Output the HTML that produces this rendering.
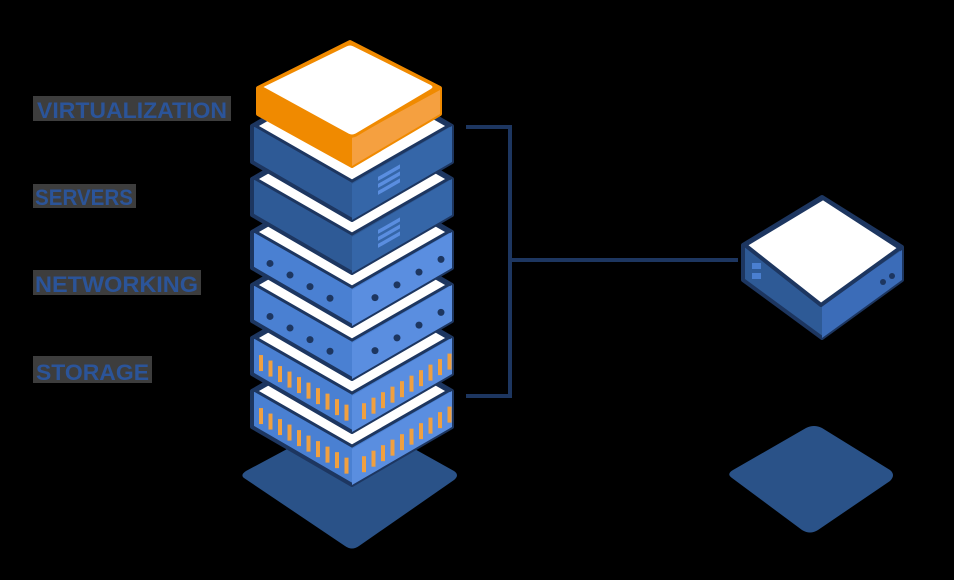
<!DOCTYPE html>
<html><head><meta charset="utf-8"><style>
html,body{margin:0;padding:0;background:#000;}
svg{display:block}
text{font-family:"Liberation Sans",sans-serif;font-weight:bold;fill:#2b5499;font-size:22px;}
</style></head><body>
<svg id="s" width="954" height="580" viewBox="0 0 954 580" xmlns="http://www.w3.org/2000/svg">
<rect width="954" height="580" fill="#000"/>
<rect x="33" y="96" width="198" height="25" fill="#3d3d3d"/>
<text x="37" y="118" textLength="190" lengthAdjust="spacingAndGlyphs">VIRTUALIZATION</text>
<rect x="33" y="184" width="103" height="24" fill="#3d3d3d"/>
<text x="35" y="205" textLength="98" lengthAdjust="spacingAndGlyphs">SERVERS</text>
<rect x="33" y="270" width="168" height="25" fill="#3d3d3d"/>
<text x="35" y="292" textLength="163" lengthAdjust="spacingAndGlyphs">NETWORKING</text>
<rect x="33" y="356" width="119" height="27" fill="#3d3d3d"/>
<text x="36" y="380" textLength="113" lengthAdjust="spacingAndGlyphs">STORAGE</text>
<!-- bases -->
<path d="M244,478 Q240,475 246,471 L345,418 Q352,414 359,418 L454,471 Q460,475 454,480 L359,546 Q352,551 345,546 Z" fill="#2a5288"/>
<path d="M732,478 Q726,474 733,470 L806,428 Q814,424 822,428 L890,470 Q896,475 890,481 L818,530 Q810,535 802,530 Z" fill="#2a5288"/>
<!-- bracket -->
<path d="M466,127 H510 V396 H466 M510,260 H738" fill="none" stroke="#1d3660" stroke-width="4"/>
<g id="stack"></g>
<!-- right small server -->
<g stroke="#1d3660" stroke-width="4" stroke-linejoin="round">
<path d="M743,245 L822,197 L902,247 L902,280 L822,338 L743,280 Z" fill="#2e5a96"/>
<path d="M822,305 L902,250 L902,280 L822,338 Z" fill="#3b6cb8" stroke="none"/>
<path d="M745,245 L823,198 L900,248 L821,305 Z" fill="#fff"/>
</g>
<rect x="752" y="263" width="9" height="6" fill="#4a7fd0"/>
<rect x="752" y="273" width="9" height="6" fill="#4a7fd0"/>
<circle cx="883" cy="282" r="3" fill="#1d3660"/><circle cx="892" cy="276" r="3" fill="#1d3660"/>
<!-- orange top -->
<g stroke="#f08a00" stroke-width="4" stroke-linejoin="round">
<path d="M258,88 L350,42 L440,88 L440,114 L352,166 L258,114 Z" fill="#f08a00"/>
<path d="M352,138 L440,90 L440,114 L352,166 Z" fill="#f5a040" stroke="none"/>
<path d="M264,89 Q260,87 264,85 L346,45 Q350,43 354,45 L432,84 Q436,87 432,90 L356,135 Q352,137 348,135 Z" fill="#fff" stroke-width="3"/>
</g>
</svg>
<script>
var g=document.getElementById('stack'),h='';
var Ls=[126,179,232,285,338,391],H=36,S=58,k2=S/100;
for(var i=5;i>=0;i--){
 var L=Ls[i],lc=i<2?'#2e5a96':'#4a80d2',rc=i<2?'#3566a8':'#5a8ee0';
 h+='<path d="M252,'+L+' L352,'+(L-S)+' L452,'+L+' L452,'+(L+H)+' L352,'+(L+S+H)+' L252,'+(L+H)+' Z" fill="'+lc+'" stroke="#1d3660" stroke-width="4" stroke-linejoin="round"/>';
 h+='<path d="M352,'+(L+S)+' L452,'+L+' L452,'+(L+H)+' L352,'+(L+S+H)+' Z" fill="'+rc+'"/>';
 h+='<path d="M256,'+L+' L352,'+(L-S+3)+' L448,'+L+' L352,'+(L+S-3)+' Z" fill="#fff" stroke="#1d3660" stroke-width="3"/>';
 var ym=L+H/2+3;
 if(i<2){for(var k=0;k<3;k++){var x=378,y=L+S+8+k*7-(x-352)*k2;
   h+='<path d="M'+x+','+y+' l22,-12.5 l0,4 l-22,12.5 Z" fill="#5a8ee0"/>';}}
 else if(i<4){[270,290,310,330].forEach(function(x){h+='<circle cx="'+x+'" cy="'+(ym+(x-252)*k2)+'" r="3.5" fill="#1d3660"/>';});
   [375,397,419,441].forEach(function(x){h+='<circle cx="'+x+'" cy="'+(ym+(452-x)*k2)+'" r="3.5" fill="#1d3660"/>';});}
 else{for(var x=259;x<345;x+=9.5){h+='<rect x="'+x+'" y="'+(ym-8+(x-252)*k2)+'" width="4" height="16" fill="#f0a040"/>';}
   for(var x=362;x<448;x+=9.5){h+='<rect x="'+x+'" y="'+(ym-8+(452-x)*k2)+'" width="4" height="16" fill="#f0a040"/>';}}
}
g.innerHTML=h;
</script>
</body></html>
